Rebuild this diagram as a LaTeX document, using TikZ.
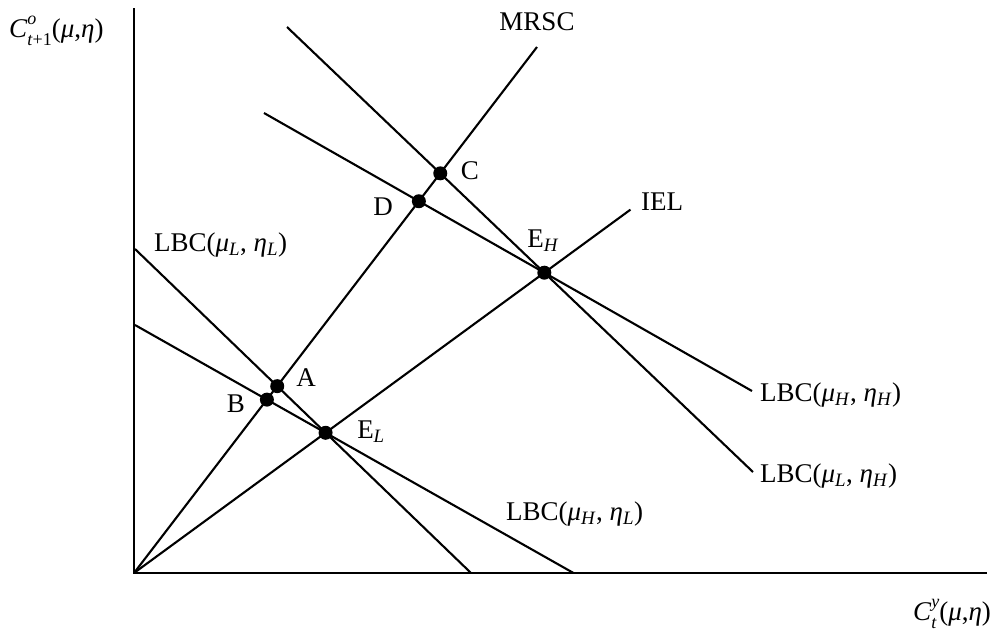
\documentclass[tikz,border=0pt]{standalone}
\usepackage{fontspec}
\setmainfont{Liberation Serif}
\usetikzlibrary{calc}

\newcommand{\lbc}[2]{LBC(\textit{μ}\textsubscript{\textit{#1}}, \textit{η}\textsubscript{\textit{#2}})}
\newcommand{\hi}[1]{\raisebox{13pt}{\fontsize{18}{18}\selectfont #1}}
\newcommand{\lo}[1]{\raisebox{-8pt}{\fontsize{18}{18}\selectfont #1}}

\begin{document}
\begin{tikzpicture}[x=1pt, y=-1pt, line width=2.1pt,
    every node/.style={font=\fontsize{27}{32}\selectfont, inner sep=0pt},
    dot/.style={circle, fill, inner sep=0pt, minimum size=14pt}]
    \def\ext{1.21}
    \useasboundingbox (0,0) rectangle (994,630);

    %axes
    \coordinate (O) at (134,573);
    \coordinate (Ytop) at (134,8);
    \coordinate (Xend) at (987,573);
    \draw[line width=2.8pt] (Ytop) -- (O) -- (Xend);

    %end points of the budget lines
    \coordinate (LLa) at (135,249);
    \coordinate (LLb) at (471,573);
    \coordinate (HLa) at (135,325);
    \coordinate (LHa) at (287,27);
    \coordinate (LHb) at (753,472);
    \coordinate (HHa) at (264,113);
    \coordinate (HHb) at (752,391);
    \coordinate (MR) at (537,47);

    %crossing points
    \coordinate (EH) at (intersection of LHa--LHb and HHa--HHb);
    \coordinate (IE) at ($(O)!\ext!(EH)$);
    \coordinate (EL) at (intersection of LLa--LLb and O--EH);
    \coordinate (HLb) at (intersection of HLa--EL and O--Xend);
    \coordinate (A) at (intersection of O--MR and LLa--LLb);
    \coordinate (B) at (intersection of O--MR and HLa--EL);
    \coordinate (C) at (intersection of O--MR and LHa--LHb);
    \coordinate (D) at (intersection of O--MR and HHa--HHb);

    %lines
    \draw (LLa) -- (LLb);
    \draw (HLa) -- (HLb);
    \draw (LHa) -- (LHb);
    \draw (HHa) -- (HHb);
    \draw (O) -- (MR);
    \draw (O) -- (IE);

    %dots
    \node[dot] (a) at (A) {};
    \node[dot] (b) at (B) {};
    \node[dot] (c) at (C) {};
    \node[dot] (d) at (D) {};
    \node[dot] (eh) at (EH) {};
    \node[dot] (el) at (EL) {};

    %labels
    \node (mrsc) at (537,22) {MRSC};
    \node (iel) at (662,202) {IEL};
    \node (lc) at (470,171) {C};
    \node (ld) at (383,207) {D};
    \node (leh) at (543,241) {E\textsubscript{\textit{H}}};
    \node (la) at (306,378) {A};
    \node (lb) at (236,404) {B};
    \node (lel) at (371,432) {E\textsubscript{\textit{L}}};
    \node[anchor=west] (lll) at (153,245) {\lbc{L}{L}};
    \node[anchor=west] (lhh) at (759,395) {\lbc{H}{H}};
    \node[anchor=west] (llh) at (759,476) {\lbc{L}{H}};
    \node[anchor=west] (lhl) at (505,514) {\lbc{H}{L}};
    \node[anchor=base west] (ylab) at (8,37)
        {\textit{C}\rlap{\hi{\textit{o}}}\lo{\textit{t}+1}(\textit{μ},\textit{η})};
    \node[anchor=base east] (xlab) at (992,620)
        {\textit{C}\rlap{\lo{\textit{t}}}\hi{\textit{y}}(\textit{μ},\textit{η})};
\end{tikzpicture}
\end{document}
